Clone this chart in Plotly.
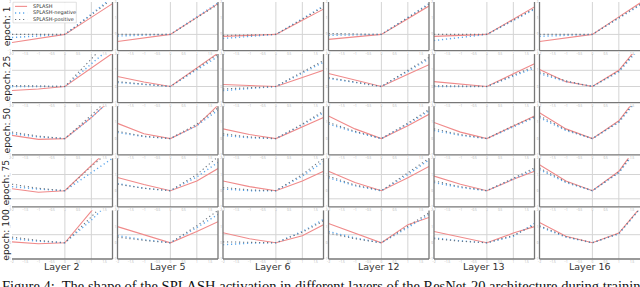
import plotly.graph_objects as go
from plotly.subplots import make_subplots

x_pts = [-2, -1, 0, 1, 1.8]
layers = ["Layer 2", "Layer 5", "Layer 6", "Layer 12", "Layer 13", "Layer 16"]
epochs = ["epoch: 1", "epoch: 25", "epoch: 50", "epoch: 75", "epoch: 100"]
series_names = ["SPLASH", "SPLASH-negative", "SPLASH-positive"]
x_ticks = [-2, -1.5, -1, -0.5, 0, 0.5, 1, 1.5]
y_ticks = [-1, 0, 1, 2]
vgrid = [0, 1]
hgrid_rows = [[0], [0, 1], [], [-0.5, 1], [0.5]]

# values at x_pts, one list per layer (column)
splash_e1 = [[-0.5, -0.25, 0, 1.05, 1.9], [-0.44, -0.22, 0, 1.05, 1.9], [-0.12, -0.06, 0, 0.87, 1.56],
             [-0.31, -0.15, 0, 0.97, 1.75], [-0.12, -0.06, 0, 0.94, 1.7], [-0.44, -0.22, 0, 1.08, 1.94]]
neg_e1 = [[-0.19, -0.1, 0, 1.25, 2.3], [-0.1, -0.05, 0, 1.08, 1.95], [-0.25, -0.12, 0, 0.97, 1.75],
          [-0.06, -0.03, 0, 1.05, 1.9], [-0.38, -0.19, 0, 0.86, 1.55], [-0.12, -0.06, 0, 1.0, 1.8]]
pos_e1 = [[0, 0, 0, 1.2, 2.2], [0, 0, 0, 1.03, 1.85], [-0.06, -0.03, 0, 0.94, 1.7],
          [0.06, 0.03, 0, 1.03, 1.85], [0, 0, 0, 0.89, 1.6], [0, 0, 0, 1.03, 1.85]]

splash_e25 = [[-0.25, -0.15, 0, 1.15, 2.05], [0.62, 0.28, 0, 1.15, 2.06], [0.12, 0.06, 0, 0.55, 1.0],
              [0.8, 0.38, 0, 0.75, 1.35], [0.3, 0.14, 0, 0.78, 1.4], [1.05, 0.3, 0, 1.0, 2.6]]
neg_e25 = [[0, 0, 0, 1.4, 2.5], [0.25, 0.12, 0, 1.03, 1.85], [-0.25, -0.12, 0, 0.83, 1.5],
           [0.5, 0.24, 0, 0.94, 1.7], [0, 0, 0, 0.64, 1.15], [0.8, 0.3, 0, 0.9, 2.4]]
pos_e25 = [[0.06, 0.03, 0, 1.7, 3.1], [0.3, 0.15, 0, 1.1, 2.0], [-0.15, -0.07, 0, 0.9, 1.6],
           [0.55, 0.27, 0, 1.0, 1.8], [0.05, 0.02, 0, 0.7, 1.25], [0.9, 0.35, 0, 0.95, 2.5]]

splash_e50 = [[0.2, -0.05, 0, 1.3, 2.5], [0.94, 0.3, 0, 0.8, 2.06], [0.6, 0.25, 0, 0.7, 1.3],
              [1.4, 0.6, 0, 0.8, 1.5], [1.0, 0.4, 0, 0.8, 1.4], [1.6, 0.6, 0, 1.1, 2.8]]
neg_e50 = [[0.3, 0.1, 0, 1.3, 2.5], [0.38, 0.12, 0, 0.8, 1.75], [0.2, 0.05, 0, 0.85, 1.6],
           [0.9, 0.4, 0, 0.9, 1.7], [0.5, 0.2, 0, 0.75, 1.3], [1.3, 0.5, 0, 1.0, 2.6]]
pos_e50 = [[0.4, 0.15, 0, 1.45, 2.7], [0.45, 0.15, 0, 0.9, 1.9], [0.3, 0.1, 0, 0.9, 1.7],
           [1.0, 0.45, 0, 0.95, 1.8], [0.6, 0.25, 0, 0.8, 1.35], [1.4, 0.55, 0, 1.05, 2.7]]

splash_e75 = [[0.12, -0.1, 0, 1.55, 2.8], [0.81, 0.38, 0, 0.6, 1.37], [0.6, 0.25, 0, 0.6, 1.2],
              [1.2, 0.5, 0, 0.8, 1.5], [0.9, 0.4, 0, 0.7, 1.2], [1.6, 0.6, 0, 1.2, 3.0]]
neg_e75 = [[0.25, 0.1, 0, 1.1, 2.0], [0.44, 0.15, 0, 0.85, 1.75], [0.1, 0.0, 0, 0.9, 1.8],
           [0.8, 0.3, 0, 1.0, 1.9], [0.5, 0.2, 0, 0.7, 1.3], [1.3, 0.5, 0, 1.1, 2.8]]
pos_e75 = [[0.4, 0.15, 0, 1.5, 2.6], [0.4, 0.15, 0, 1.0, 2.1], [0.2, 0.05, 0, 1.0, 2.0],
           [0.9, 0.35, 0, 1.1, 2.0], [0.6, 0.25, 0, 0.75, 1.4], [1.4, 0.55, 0, 1.15, 2.9]]

splash_e100 = [[0.06, -0.06, 0, 1.95, 3.6], [1.0, 0.5, 0, 0.7, 1.3], [0.62, 0.25, 0, 0.44, 1.12],
               [1.19, 0.6, 0, 1.12, 1.56], [0.7, 0.37, 0, 0.6, 1.0], [1.25, 0.4, 0, 0.6, 2.15]]
neg_e100 = [[0.25, 0.1, 0, 1.4, 2.7], [0.44, 0.19, 0, 0.94, 1.75], [-0.12, -0.02, 0, 0.7, 1.44],
            [0.7, 0.3, 0, 0.94, 1.75], [0.3, 0.12, 0, 0.4, 1.2], [1.0, 0.35, 0, 0.55, 2.1]]
pos_e100 = [[0.35, 0.15, 0, 1.6, 3.0], [0.35, 0.15, 0, 1.05, 2.0], [0.06, 0.02, 0, 0.65, 1.35],
            [0.6, 0.25, 0, 1.0, 1.85], [0.25, 0.1, 0, 0.45, 1.1], [1.05, 0.38, 0, 0.58, 2.12]]

splash_rows = [splash_e1, splash_e25, splash_e50, splash_e75, splash_e100]
neg_rows = [neg_e1, neg_e25, neg_e50, neg_e75, neg_e100]
pos_rows = [pos_e1, pos_e25, pos_e50, pos_e75, pos_e100]

W, H = 640, 287
ML, MR, MT, MB = 12, 0, 2, 28
pw, ph = W - ML - MR, H - MT - MB

fig = make_subplots(rows=5, cols=6, horizontal_spacing=5 / pw, vertical_spacing=3.5 / ph)

RED = "#f08a8a"
BLUE = "#5aa6ec"
DARK = "#6a737d"
DOTS = "1.2px,2.8px"

shapes = []
for r in range(5):
    for c in range(6):
        fig.add_trace(go.Scatter(x=x_pts, y=splash_rows[r][c], mode="lines", name=series_names[0],
                                 line=dict(color=RED, width=1.1), showlegend=False),
                      row=r + 1, col=c + 1)
        fig.add_trace(go.Scatter(x=x_pts, y=neg_rows[r][c], mode="lines", name=series_names[1],
                                 line=dict(color=BLUE, width=1.4, dash=DOTS), showlegend=False),
                      row=r + 1, col=c + 1)
        fig.add_trace(go.Scatter(x=x_pts, y=pos_rows[r][c], mode="lines", name=series_names[2],
                                 line=dict(color=DARK, width=1.1, dash=DOTS), showlegend=False),
                      row=r + 1, col=c + 1)
        n = r * 6 + c + 1
        sx = "" if n == 1 else str(n)
        xd, yd = f"x{sx} domain", f"y{sx} domain"
        for gv in vgrid:
            shapes.append(dict(type="line", xref=f"x{sx}", yref=yd, x0=gv, x1=gv, y0=0, y1=1,
                               line=dict(color="#d4d4d4", width=1), layer="below"))
        for gv in hgrid_rows[r]:
            shapes.append(dict(type="line", xref=xd, yref=f"y{sx}", x0=0, x1=1, y0=gv, y1=gv,
                               line=dict(color="#d4d4d4", width=1), layer="below"))
        shapes.append(dict(type="line", xref=xd, yref=yd, x0=0, x1=1, y0=0, y1=0,
                           line=dict(color="#777", width=1.3)))
        if c < 5:
            shapes.append(dict(type="line", xref=xd, yref=yd, x0=1, x1=1, y0=0, y1=1,
                               line=dict(color="#777", width=1.3)))
        if c > 0:
            shapes.append(dict(type="line", xref=xd, yref=yd, x0=0, x1=0, y0=0, y1=1,
                               line=dict(color="#777", width=1.3)))

fig.update_xaxes(range=[-2, 1.8], tickvals=x_ticks, showgrid=False, zeroline=False,
                 tickfont=dict(size=3, color="#aaa"), ticks="", ticklen=0, showline=False)
fig.update_yaxes(range=[-1, 2], tickvals=y_ticks, showgrid=False, zeroline=False,
                 tickfont=dict(size=3, color="#aaa"), ticks="", ticklen=0, showline=False)

annotations = []
# legend drawn inside the first panel
shapes.append(dict(type="rect", xref="x domain", yref="y domain", x0=0.01, x1=0.64, y0=0.57, y1=0.995,
                   fillcolor="rgba(255,255,255,0.92)", line=dict(color="#cccccc", width=0.6)))
leg_styles = [dict(color=RED, width=1.1), dict(color=BLUE, width=1.4, dash=DOTS),
              dict(color=DARK, width=1.1, dash=DOTS)]
for i, (nm, st) in enumerate(zip(series_names, leg_styles)):
    yy = 0.91 - i * 0.135
    shapes.append(dict(type="line", xref="x domain", yref="y domain", x0=0.03, x1=0.15, y0=yy, y1=yy,
                       line=st))
    annotations.append(dict(text=nm, xref="x domain", yref="y domain", x=0.19, y=yy,
                            xanchor="left", yanchor="middle", showarrow=False,
                            font=dict(size=5, color="#333", family="DejaVu Sans")))

for c, name in enumerate(layers):
    dom = fig.layout[f"xaxis{'' if c == 0 else c + 1}"].domain
    annotations.append(dict(text=name, xref="paper", yref="paper", x=(dom[0] + dom[1]) / 2,
                            y=-7 / ph, xanchor="center", yanchor="middle", showarrow=False,
                            font=dict(size=9.5, color="#333", family="DejaVu Sans")))
for r, name in enumerate(epochs):
    n = r * 6 + 1
    dom = fig.layout[f"yaxis{'' if n == 1 else n}"].domain
    annotations.append(dict(text=name, xref="paper", yref="paper", x=-6 / pw,
                            y=(dom[0] + dom[1]) / 2, xanchor="center", yanchor="middle",
                            textangle=-90, showarrow=False,
                            font=dict(size=9.2, color="#222", family="DejaVu Sans")))
annotations.append(dict(text="Figure 4:  The shape of the SPLASH activation in different layers of the ResNet-20 architecture during training",
                        xref="paper", yref="paper", x=-ML / pw, y=-27 / ph, xanchor="left",
                        yanchor="middle", showarrow=False,
                        font=dict(size=14.5, color="#111", family="Liberation Serif")))

fig.update_layout(width=W, height=H, margin=dict(l=ML, r=MR, t=MT, b=MB),
                  paper_bgcolor="white", plot_bgcolor="white", showlegend=False,
                  shapes=shapes, annotations=annotations)

fig.write_html("out.html", config={"displayModeBar": False},
               post_script="document.body.style.margin='0';document.body.style.overflow='hidden';")
